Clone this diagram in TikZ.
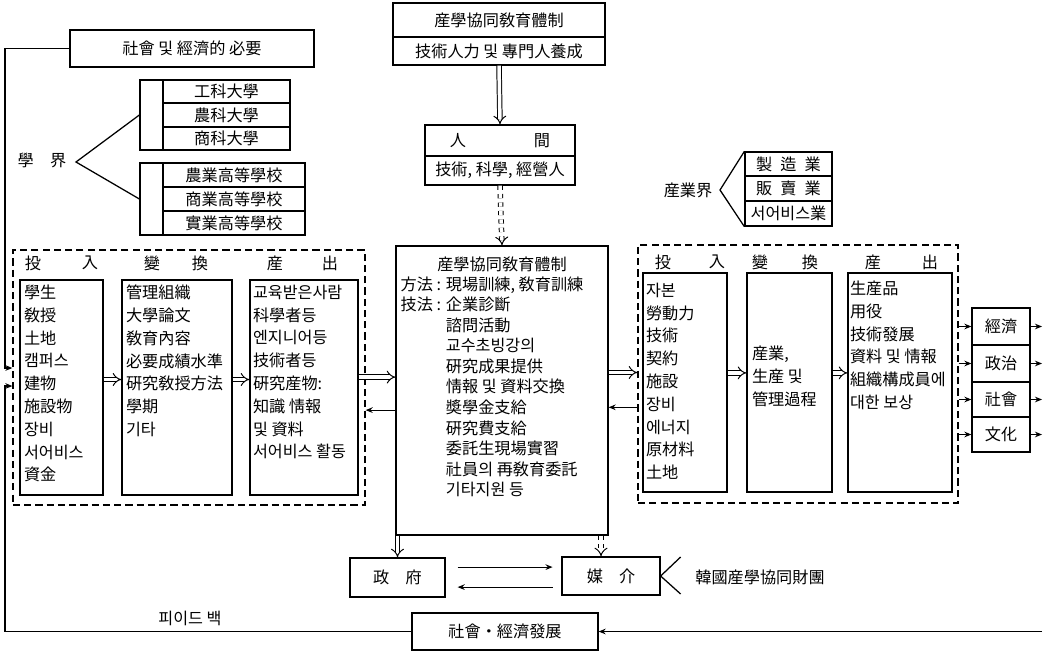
\documentclass[tikz,border=0pt]{standalone}
\usepackage{fontspec}
\newfontfamily\kr{Noto Sans CJK KR}
\usetikzlibrary{positioning,fit,arrows.meta}

\tikzset{
  box/.style={draw, line width=0.9pt, inner sep=0pt},
  txt/.style={label={center:#1}},
  dashbox/.style={draw, line width=0.9pt, inner sep=0pt, dash pattern=on 5pt off 3pt},
  lst/.style={anchor=north west, align=left, inner sep=0pt, font=\kr\fontsize{11.5}{16.2}\selectfont},
  dbl/.style={double, double distance=2.5pt, line width=0.7pt, -{Implies}},
  sgl/.style={line width=0.8pt, -{Stealth[length=5pt,width=4pt]}},
}

\begin{document}
\begin{tikzpicture}[x=0.025cm, y=-0.025cm, font=\kr\fontsize{11.5}{16.2}\selectfont, line width=0.9pt]
  \useasboundingbox (0,0) rectangle (1043,651);
  \coordinate (redge) at (1042,0);
  \coordinate (needin) at (5,368);
  \coordinate (fbin) at (5,386);

  % top: needs and education system
  \node[box, fit={(70,30) (314,67)}, txt={社會 및 經濟的 必要}] (needs) {};
  \node[box, fit={(393,3) (605,37)}, txt={産學協同敎育體制}] (system) {};
  \node[box, fit={(393,37) (605,65)}, txt={技術人力 및 專門人養成}] (talent) {};
  \node[box, fit={(425,125) (575,156)}, txt={人\hspace{4.2em}間}] (human) {};
  \node[box, fit={(425,156) (575,185)}, txt={技術, 科學, 經營人}] (humanrole) {};
  \draw[dbl] (talent.south) -- (human.north);

  % academia
  \node (acad) at (42,160) {學\quad 界};
  \coordinate (acadtip) at (76,162);
  \node[box, fit={(140,80) (163,150)}] (univstrip) {};
  \node[box, fit={(163,80) (290,103)}, txt={工科大學}] (eng) {};
  \node[box, fit={(163,103) (290,127)}, txt={農科大學}] (agr) {};
  \node[box, fit={(163,127) (290,150)}, txt={商科大學}] (com) {};
  \node[box, fit={(140,163) (163,235)}] (hsstrip) {};
  \node[box, fit={(163,163) (305,187)}, txt={農業高等學校}] (agrhs) {};
  \node[box, fit={(163,187) (305,211)}, txt={商業高等學校}] (comhs) {};
  \node[box, fit={(163,211) (305,235)}, txt={實業高等學校}] (vochs) {};
  \draw (univstrip.west) -- (acadtip) -- (hsstrip.west);

  % industry
  \node (ind) at (688,190) {産業界};
  \node[box, fit={(745,152) (832,176)}, txt={製\enspace 造\enspace 業}] (mfg) {};
  \node[box, fit={(745,176) (832,201)}, txt={販\enspace 賣\enspace 業}] (sales) {};
  \node[box, fit={(745,201) (832,226)}, txt={서어비스業}] (svc) {};
  \draw (mfg.north west) -- (720,190) -- (svc.south west);

  % university system
  \node[dashbox, fit={(13,250) (365,505)}] (univsys) {};
  \foreach \x/\c in {33/投, 90/入, 152/變, 200/換, 275/産, 330/出}
    \node (uhead-\x) at (\x,263) {\c};
  \node[box, fit={(20,280) (103,495)}] (uin) {};
  \node[box, fit={(122,280) (232,495)}] (uconv) {};
  \node[box, fit={(250,280) (358,495)}] (uout) {};
  \node[lst] (uintext) at ([shift={(4,5)}]uin.north west)
    {學生\\敎授\\土地\\캠퍼스\\建物\\施設物\\장비\\서어비스\\資金};
  \node[lst] (uconvtext) at ([shift={(4,5)}]uconv.north west)
    {管理組織\\大學論文\\敎育內容\\必要成績水準\\硏究敎授方法\\學期\\기타};
  \node[lst] (uouttext) at ([shift={(3,5)}]uout.north west)
    {교육받은사람\\科學者등\\엔지니어등\\技術者등\\硏究産物:\\知識 情報\\및 資料\\서어비스 활동};
  \draw[dbl] ([yshift=0.2cm]uin.east) -- ([yshift=0.2cm]uconv.west);
  \draw[dbl] ([yshift=0.2cm]uconv.east) -- ([yshift=0.2cm]uout.west);

  % cooperation system
  \node[box, fit={(396,246) (608,535)}] (coop) {};
  \draw[dbl, dashed] (humanrole.south) -- (coop.north);
  \node[anchor=north, inner sep=0pt] (cooptitle) at (502,256) {産學協同敎育體制};
  \node[lst, font=\kr\fontsize{11.5}{14.6}\selectfont] (coopbody) at (400,276)
    {方法 : 現場訓練, 敎育訓練\\
     技法 : 企業診斷\\
     \phantom{技法 : }諮問活動\\
     \phantom{技法 : }교수초빙강의\\
     \phantom{技法 : }硏究成果提供\\
     \phantom{技法 : }情報 및 資料交換\\
     \phantom{技法 : }奬學金支給\\
     \phantom{技法 : }硏究費支給\\
     \phantom{技法 : }委託生現場實習\\
     \phantom{技法 : }社員의 再敎育委託\\
     \phantom{技法 : }기타지원 등};
  \draw[dbl] ([yshift=0.26cm]uout.east) -- ([yshift=0.26cm]uout.east -| coop.west);
  \draw[sgl] ([yshift=-0.49cm]coop.west) -- ([yshift=-0.49cm]coop.west -| univsys.east);

  % industry system
  \node[dashbox, fit={(638,245) (958,503)}] (indsys) {};
  \foreach \x/\c in {663/投, 717/入, 760/變, 810/換, 873/産, 930/出}
    \node (ihead-\x) at (\x,262) {\c};
  \node[box, fit={(643,273) (727,492)}] (iin) {};
  \node[box, fit={(747,273) (832,492)}] (iconv) {};
  \node[box, fit={(848,273) (952,492)}] (iout) {};
  \node[lst] (iintext) at ([shift={(3,10)}]iin.north west)
    {자본\\勞動力\\技術\\契約\\施設\\장비\\에너지\\原材料\\土地};
  \node[lst] (iconvtext) at ([shift={(5,73)}]iconv.north west)
    {産業,\\生産 및\\管理過程};
  \node[lst] (iouttext) at ([shift={(2,8)}]iout.north west)
    {生産品\\用役\\技術發展\\資料 및 情報\\組織構成員에\\대한 보상};
  \draw[dbl] ([yshift=0.45cm]coop.east) -- ([yshift=0.45cm]coop.east -| indsys.west);
  \draw[sgl] ([yshift=-0.42cm]coop.east -| indsys.west) -- ([yshift=-0.42cm]coop.east);
  \draw[dbl] ([yshift=0.24cm]iin.east) -- ([yshift=0.24cm]iconv.west);
  \draw[dbl] ([yshift=0.24cm]iconv.east) -- ([yshift=0.24cm]iout.west);

  % society
  \node[box, fit={(972,308) (1030,345)}, txt={經濟}] (econ) {};
  \node[box, fit={(972,345) (1030,382)}, txt={政治}] (polit) {};
  \node[box, fit={(972,382) (1030,417)}, txt={社會}] (soc) {};
  \node[box, fit={(972,417) (1030,452)}, txt={文化}] (cult) {};
  \foreach \b in {econ, polit, soc, cult} {
    \draw[sgl] (\b.west -| indsys.east) -- (\b.west);
    \draw[sgl] (\b.east) -- (\b.east -| redge);
  }

  % government and foundation
  \node[box, fit={(350,558) (445,597)}, txt={政\quad 府}] (govt) {};
  \node[box, fit={(562,557) (660,595)}, txt={媒\quad 介}] (media) {};
  \draw[dbl] (coop.south -| govt.north) -- (govt.north);
  \draw[dbl, dashed] ([xshift=-0.25cm]media.north |- coop.south) -- ([xshift=-0.25cm]media.north);
  \draw[sgl, shorten <=0.3cm, shorten >=0.22cm] ([yshift=0.26cm]govt.east) -- ([yshift=0.26cm]govt.east -| media.west);
  \draw[sgl, shorten <=0.22cm, shorten >=0.3cm] ([yshift=-0.24cm]govt.east -| media.west) -- ([yshift=-0.24cm]govt.east);
  \draw ([shift={(20,-19)}]media.east) -- (media.east) -- ([shift={(20,18)}]media.east);
  \node[anchor=west] (found) at (690,577) {韓國産學協同財團};

  % feedback
  \node[box, fit={(412,613) (598,650)}, txt={社會・經濟發展}] (devel) {};
  \node (fblabel) at (190,618) {피이드 백};
  \draw[sgl] (devel.east -| redge) -- (devel.east);
  \draw[sgl] (devel.west) -| (fbin) -- (fbin -| univsys.west);
  \draw[sgl] (needs.west) -| (needin) -- (needin -| univsys.west);
\end{tikzpicture}
\end{document}
